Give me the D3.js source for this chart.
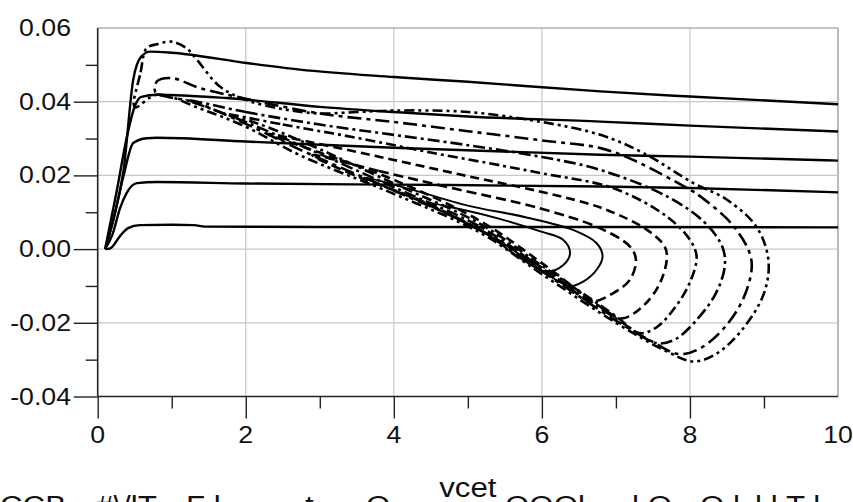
<!DOCTYPE html>
<html>
<head>
<meta charset="utf-8">
<script src="https://cdn.jsdelivr.net/npm/d3@7"></script>
<style>
  body { margin: 0; background: #fff; }
  svg { display: block; font-family: "Liberation Sans", Arial, sans-serif; }
</style>
</head>
<body>
<div id="chart"></div>
<script>
// x ticks and y ticks
var x_major = [0, 2, 4, 6, 8, 10];
var x_minor = [1, 3, 5, 7, 9];
var y_major = [0.06, 0.04, 0.02, 0.00, -0.02, -0.04];
var y_minor = [0.05, 0.03, 0.01, -0.01, -0.03];
var y_labels = ['0.06', '0.04', '0.02', '0.00', '-0.02', '-0.04'];
var x_title = 'vcet';

// solid static curves, [vcet, ic]
var ic1 = [[0.1,0],[0.17,0.0002],[0.3,0.0035],[0.41,0.0057],[0.57,0.0065],[1.0,0.0066],[1.3,0.0065],[1.45,0.0061],[3,0.006],[5,0.006],[7,0.006],[10,0.0059]];
var ic2 = [[0.1,0],[0.2,0.004],[0.3,0.011],[0.39,0.0152],[0.53,0.0179],[0.8,0.0182],[2,0.0178],[4,0.0175],[6.79,0.017],[8,0.0166],[10,0.0154]];
var ic3 = [[0.1,0],[0.2,0.007],[0.35,0.02],[0.48,0.0288],[0.66,0.0301],[0.8,0.0302],[2,0.0292],[4,0.0275],[6.79,0.0256],[8,0.0251],[10,0.024]];
var ic4 = [[0.1,0],[0.25,0.015],[0.4,0.031],[0.5,0.0387],[0.59,0.0413],[0.8,0.0419],[1.74,0.041],[3,0.0386],[4,0.0372],[5,0.036],[6.79,0.0346],[8,0.0335],[10,0.0319]];
var ic5 = [[0.1,0],[0.21,0.008],[0.35,0.0215],[0.48,0.046],[0.59,0.0523],[0.71,0.0536],[1.0,0.0533],[2.01,0.0505],[2.73,0.0487],[4,0.0467],[5,0.0454],[6.79,0.0428],[8,0.0414],[10,0.0393]];

// dynamic load lines (closed loops), [vcet, ic]
var loopA = [[4.45,0.0125],[4.9,0.0108],[5.43,0.0082],[5.98,0.0048],[6.29,0.0025],[6.38,-0.0011],[6.29,-0.0043],[6.06,-0.0061],[5.75,-0.003],[5.17,0.0052],[4.7,0.0098]];
var loopB = [[3.6,0.0195],[4.3,0.0158],[5.0,0.0118],[5.79,0.0086],[6.42,0.0052],[6.74,0.0016],[6.82,-0.002],[6.74,-0.0056],[6.56,-0.0088],[6.38,-0.0101],[6.1,-0.0072],[5.5,0.0012],[4.44,0.0122],[3.9,0.0168]];
var loopC = [[2.9,0.0255],[3.8,0.0212],[4.8,0.0165],[5.97,0.0111],[6.78,0.0057],[7.19,0.0007],[7.27,-0.0029],[7.19,-0.0083],[6.96,-0.012],[6.65,-0.0142],[6.3,-0.0092],[5.5,0.0014],[4.44,0.0125],[3.5,0.0198]];
var loopD = [[2.3,0.0312],[3.0,0.0285],[4.0,0.0242],[5.0,0.0198],[6.0,0.0155],[6.8,0.0112],[7.4,0.0055],[7.65,0.001],[7.69,-0.002],[7.6,-0.009],[7.38,-0.0152],[7.08,-0.0188],[6.8,-0.0158],[6.0,-0.0038],[5.17,0.0076],[4.0,0.0188],[3.0,0.0262]];
var loopE = [[1.7,0.0368],[2.5,0.0338],[3.5,0.0302],[4.5,0.0262],[5.5,0.0225],[6.02,0.0205],[6.97,0.0165],[7.69,0.0088],[8.0,0.0025],[8.09,-0.002],[8.0,-0.009],[7.8,-0.0158],[7.55,-0.0212],[7.32,-0.0228],[7.0,-0.0182],[6.0,-0.0045],[5.17,0.0068],[4.0,0.0178],[2.73,0.0295],[2.1,0.0345]];
var loopF = [[1.2,0.0405],[2.0,0.0372],[3.0,0.0338],[4.0,0.031],[5.0,0.0282],[6.0,0.025],[6.79,0.0215],[7.69,0.0143],[8.2,0.0072],[8.44,0.0005],[8.47,-0.0047],[8.35,-0.012],[8.1,-0.019],[7.8,-0.0245],[7.55,-0.0255],[7.0,-0.0188],[6.0,-0.0052],[5.17,0.006],[4.0,0.0168],[2.73,0.0282],[2.0,0.0345],[1.5,0.0383]];
var loopG = [[0.78,0.0425],[0.8,0.0455],[1.0,0.0464],[1.38,0.0437],[2.0,0.0408],[3.0,0.0368],[4.0,0.0345],[5.0,0.032],[6.0,0.0295],[6.79,0.0274],[7.23,0.0242],[8.0,0.0161],[8.14,0.0143],[8.6,0.006],[8.83,-0.003],[8.75,-0.012],[8.5,-0.0205],[8.15,-0.0268],[7.85,-0.0285],[7.5,-0.0252],[7.0,-0.0194],[6.0,-0.006],[5.17,0.0052],[4.0,0.0159],[2.73,0.027],[2.0,0.034],[1.3,0.0399],[0.95,0.0413]];
var loopH = [[0.5,0.0385],[0.58,0.048],[0.66,0.0545],[0.8,0.0556],[1.0,0.0563],[1.2,0.0545],[1.34,0.0514],[1.65,0.0441],[2.0,0.0405],[2.5,0.038],[3.0,0.0368],[3.5,0.0372],[4.0,0.0376],[5.0,0.0372],[6.0,0.0345],[6.79,0.031],[7.37,0.0261],[8.04,0.018],[8.5,0.0134],[8.9,0.006],[9.06,-0.003],[9.0,-0.012],[8.7,-0.022],[8.35,-0.0285],[8.05,-0.0305],[7.7,-0.0279],[7.0,-0.0200],[6.0,-0.0068],[5.17,0.0044],[4.0,0.015],[2.73,0.0255],[2.0,0.0332],[1.4,0.038],[0.8,0.0419]];

var solid_curves = [ic1, ic2, ic3, ic4, ic5];
var loops = [loopA, loopB, loopC, loopD, loopE, loopF, loopG, loopH];
var loop_dashes = ['none', 'none', '10,5', '9,5', '10,4,3,4', '12,4,3,4', '14,5,4,5', '10,4,3,4,3,4'];

var width = 853, height = 502;
var sx = 1.16; // glyphs in the picture are a bit wide

var x = d3.scaleLinear().domain([0, 10]).range([97.7, 838]);
var y = d3.scaleLinear().domain([-0.04, 0.06]).range([396.5, 28]);

var svg = d3.select('#chart').append('svg')
  .attr('width', width)
  .attr('height', height);

// grid
var grid = svg.append('g').attr('class', 'grid');
grid.selectAll('line.vx')
  .data(x_major.slice(1))
  .join('line')
  .attr('x1', d => x(d)).attr('x2', d => x(d))
  .attr('y1', y(0.06)).attr('y2', y(-0.04))
  .attr('stroke', d => d === 10 ? '#8c8c8c' : '#c8c8c8')
  .attr('stroke-width', 1.2);
grid.selectAll('line.hy')
  .data(y_major.slice(0, -1))
  .join('line')
  .attr('x1', x(0)).attr('x2', x(10))
  .attr('y1', d => y(d)).attr('y2', d => y(d))
  .attr('stroke', d => d === 0.06 ? '#8c8c8c' : '#c8c8c8')
  .attr('stroke-width', 1.2);

// curves
var plot = svg.append('g').attr('class', 'curves')
  .attr('fill', 'none')
  .attr('stroke', '#000')
  .attr('stroke-linejoin', 'round');

var line = d3.line()
  .x(d => x(d[0]))
  .y(d => y(d[1]))
  .curve(d3.curveMonotoneX);

plot.selectAll('path.ic')
  .data(solid_curves)
  .join('path')
  .attr('class', 'ic')
  .attr('stroke-width', 2.4)
  .attr('d', line);

var loop_line = d3.line()
  .x(d => x(d[0]))
  .y(d => y(d[1]))
  .curve(d3.curveCatmullRomClosed.alpha(0.5));

plot.selectAll('path.loop')
  .data(loops)
  .join('path')
  .attr('class', 'loop')
  .attr('stroke-width', (d, i) => i < 2 ? 2.0 : 2.6)
  .attr('stroke-dasharray', (d, i) => loop_dashes[i])
  .attr('d', loop_line);

// axes
var axes = svg.append('g').attr('class', 'axes');
axes.append('g')
  .attr('transform', 'translate(0,' + y(-0.04) + ')')
  .call(d3.axisBottom(x).tickValues(x_major.slice(0, -1)).tickSize(22).tickFormat(''))
  .call(g => g.select('.domain').remove());
axes.append('g')
  .attr('transform', 'translate(0,' + y(-0.04) + ')')
  .call(d3.axisBottom(x).tickValues(x_minor).tickSize(12).tickFormat(''))
  .call(g => g.select('.domain').remove());
axes.append('g')
  .attr('transform', 'translate(' + x(0) + ',0)')
  .call(d3.axisLeft(y).tickValues(y_major.slice(1)).tickSize(24).tickFormat(''))
  .call(g => g.select('.domain').remove());
axes.append('g')
  .attr('transform', 'translate(' + x(0) + ',0)')
  .call(d3.axisLeft(y).tickValues(y_minor).tickSize(12).tickFormat(''))
  .call(g => g.select('.domain').remove());
axes.selectAll('.tick line').attr('stroke', '#222').attr('stroke-width', 1.4);

axes.append('line')
  .attr('x1', x(0)).attr('x2', x(10))
  .attr('y1', y(-0.04)).attr('y2', y(-0.04))
  .attr('stroke', '#222').attr('stroke-width', 1.6);
axes.append('line')
  .attr('x1', x(0)).attr('x2', x(0))
  .attr('y1', y(0.06)).attr('y2', y(-0.04))
  .attr('stroke', '#222').attr('stroke-width', 1.6);

// tick labels
svg.append('g')
  .selectAll('text')
  .data(y_major)
  .join('text')
  .attr('transform', d => 'translate(71,' + (y(d) + 8) + ') scale(' + sx + ',1)')
  .attr('text-anchor', 'end')
  .attr('font-size', 23)
  .attr('fill', '#111')
  .text((d, i) => y_labels[i]);

svg.append('g')
  .selectAll('text')
  .data(x_major)
  .join('text')
  .attr('transform', d => 'translate(' + x(d) + ',443) scale(' + sx + ',1)')
  .attr('text-anchor', 'middle')
  .attr('font-size', 23)
  .attr('fill', '#111')
  .text(d => d);

svg.append('text')
  .attr('transform', 'translate(' + (x(0) + x(10)) / 2 + ',497) scale(' + sx + ',1)')
  .attr('text-anchor', 'middle')
  .attr('font-size', 27)
  .attr('fill', '#111')
  .text(x_title);

// caption line below, cut off by the page edge as in the picture
var caption = [[0, 'CCB'], [96, '#\\/lT'], [186, 'F l'], [305, 't'], [366, 'O'], [505, 'OOOl'], [632, 'l O'], [700, 'O l'], [755, 'l l'], [786, 'T l']];
svg.append('g')
  .selectAll('text')
  .data(caption)
  .join('text')
  .attr('transform', d => 'translate(' + d[0] + ',515) scale(' + sx + ',1)')
  .attr('font-size', 27)
  .attr('fill', '#111')
  .text(d => d[1]);
</script>
</body>
</html>
